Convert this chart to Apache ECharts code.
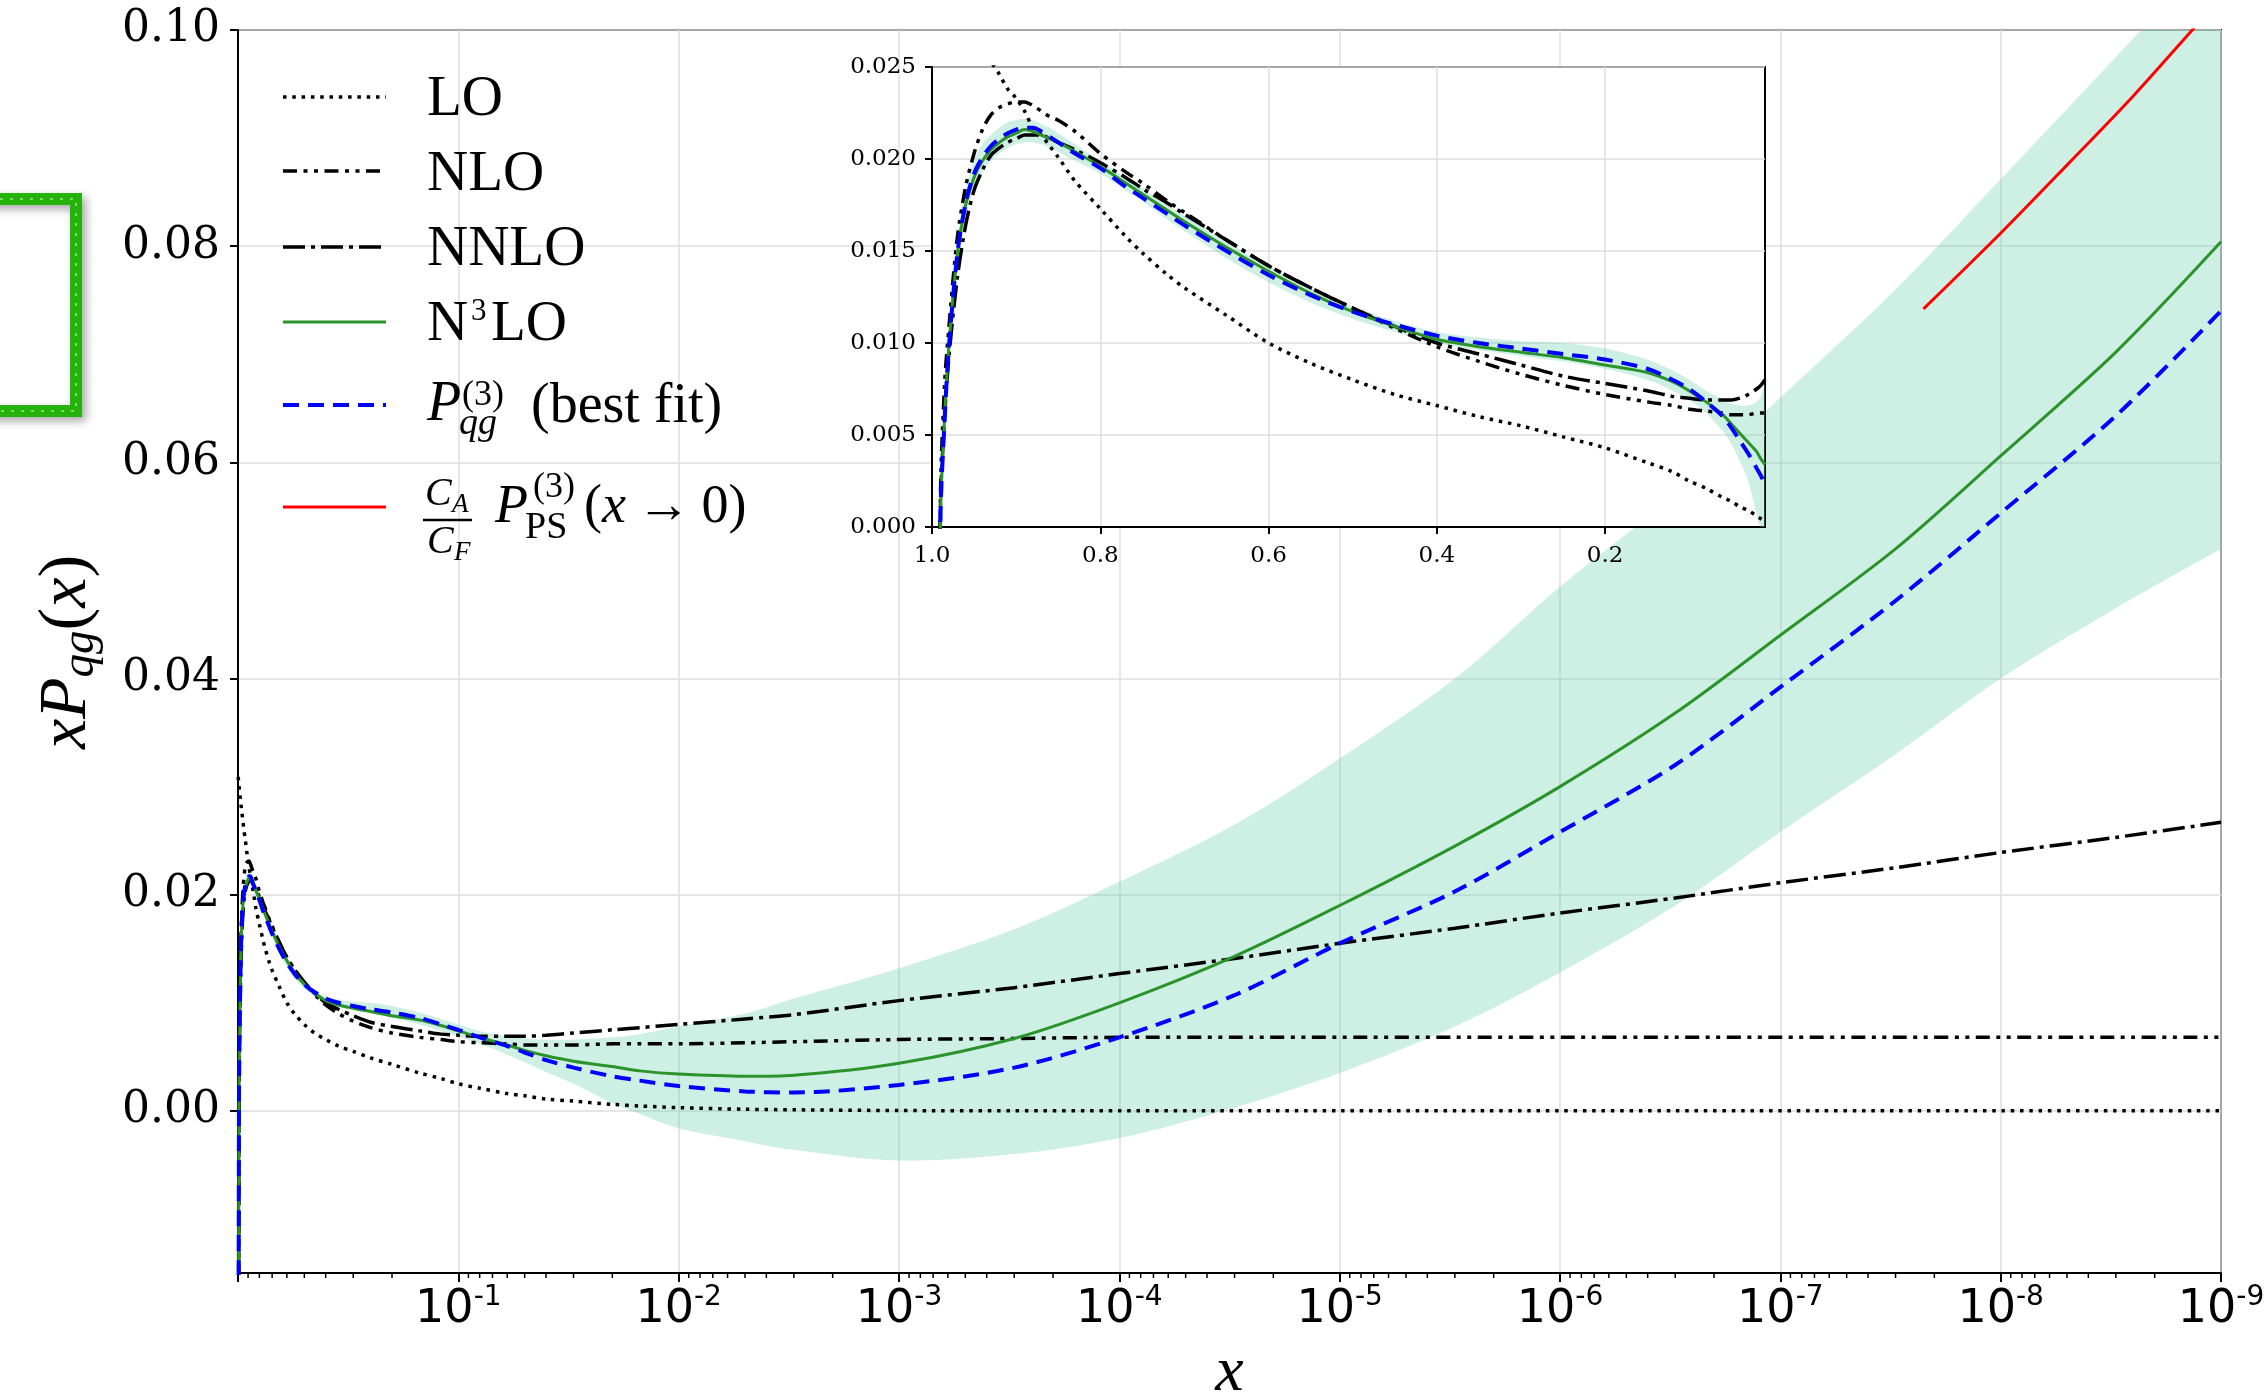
<!DOCTYPE html>
<html>
<head>
<meta charset="utf-8">
<script src="https://cdn.jsdelivr.net/npm/echarts@6/dist/echarts.min.js"></script>
<style>html,body{margin:0;padding:0;background:#fff}#c{width:2265px;height:1395px}</style>
</head>
<body>
<div id="c"></div>
<script>
// ---------------- data ----------------
const xs = [0.998, 0.99, 0.985, 0.98, 0.97, 0.96, 0.95, 0.94, 0.93, 0.92,
  0.91, 0.90, 0.89, 0.88, 0.87, 0.86, 0.85, 0.83, 0.80, 0.77,
  0.75, 0.72, 0.70, 0.65, 0.60, 0.55, 0.50, 0.45, 0.40, 0.35,
  0.30, 0.25, 0.20, 0.15, 0.12, 0.10, 0.08, 0.06, 0.05, 0.04,
  0.03, 0.02, 0.015, 0.01, 5e-3, 3e-3, 1e-3, 3e-4, 1e-4, 3e-5,
  1e-5, 3e-6, 1e-6, 3e-7, 1e-7, 3e-8, 1e-8, 3e-9, 1e-9];

const LO = [0.0309, 0.0301, 0.0297, 0.0292, 0.0284, 0.0276, 0.0268, 0.0260, 0.0253, 0.0246,
  0.0238, 0.0233, 0.0226, 0.0217, 0.0213, 0.0207, 0.0201, 0.0188, 0.0173, 0.0158,
  0.0149, 0.0137, 0.0130, 0.0115, 0.0100, 0.0089, 0.0080, 0.0072, 0.0066, 0.0060,
  0.0055, 0.0049, 0.0043, 0.0035, 0.0030, 0.0025, 0.0021, 0.0016, 0.0014, 0.0011,
  0.0009, 0.0006, 0.00045, 0.0003, 0.00015, 0.0001, 0.00003, 0.00001, 0, 0,
  0, 0, 0, 0, 0, 0, 0, 0, 0];

const NLO = [-0.05, 0.0015, 0.0078, 0.0108, 0.0157, 0.0185, 0.0203, 0.0216, 0.0224, 0.0228,
  0.0230, 0.0231, 0.0231, 0.0229, 0.0226, 0.0223, 0.0221, 0.0215, 0.0203, 0.0193,
  0.0187, 0.0177, 0.0171, 0.0156, 0.0142, 0.0130, 0.0119, 0.0108, 0.0098, 0.0090,
  0.0083, 0.0077, 0.0072, 0.0068, 0.0066, 0.0064, 0.0063, 0.0062, 0.0061, 0.0061,
  0.0061, 0.0062, 0.0062, 0.0062, 0.0063, 0.0064, 0.0066, 0.0067, 0.0068, 0.0068,
  0.0068, 0.0068, 0.0068, 0.0068, 0.0068, 0.0068, 0.0068, 0.0068, 0.0068];

const NNLO = [-0.05, 0.0010, 0.0060, 0.0092, 0.0135, 0.0164, 0.0183, 0.0194, 0.0202, 0.0206,
  0.0209, 0.0211, 0.0213, 0.0213, 0.0213, 0.0211, 0.0209, 0.0205, 0.0198, 0.0190,
  0.0184, 0.0176, 0.0170, 0.0156, 0.0142, 0.0130, 0.0119, 0.0109, 0.0100, 0.0094,
  0.0088, 0.0082, 0.0078, 0.0074, 0.0071, 0.0070, 0.0069, 0.0069, 0.0069, 0.0070,
  0.0072, 0.0075, 0.0077, 0.0080, 0.0085, 0.0089, 0.0102, 0.0114, 0.0127, 0.0141,
  0.0155, 0.0169, 0.0183, 0.0197, 0.0211, 0.0225, 0.0239, 0.0253, 0.0267];

const N3LO = [-0.05, 0.0005, 0.0060, 0.0098, 0.0148, 0.0175, 0.0190, 0.0199, 0.0205, 0.0209,
  0.0212, 0.0214, 0.0216, 0.0215, 0.0213, 0.0211, 0.0209, 0.0204, 0.0196, 0.0187,
  0.0181, 0.0172, 0.0166, 0.0152, 0.0139, 0.0127, 0.0117, 0.0109, 0.0102, 0.0098,
  0.0095, 0.0092, 0.0088, 0.0084, 0.0079, 0.0074, 0.0068, 0.0061, 0.0056, 0.0051,
  0.0046, 0.0041, 0.0037, 0.0034, 0.0032, 0.0033, 0.0044, 0.0067, 0.0100, 0.0143,
  0.0190, 0.0245, 0.0300, 0.0368, 0.0440, 0.0520, 0.0606, 0.0702, 0.0804];

const bestFit = [-0.05, 0.0003, 0.0058, 0.0097, 0.0148, 0.0176, 0.0192, 0.0201, 0.0207, 0.0211,
  0.0214, 0.0216, 0.0217, 0.0217, 0.0215, 0.0212, 0.0209, 0.0203, 0.0195, 0.0185,
  0.0179, 0.0170, 0.0164, 0.0150, 0.0137, 0.0126, 0.0117, 0.0110, 0.0104, 0.0100,
  0.0097, 0.0094, 0.0091, 0.0086, 0.0080, 0.0075, 0.0068, 0.0060, 0.0054, 0.0047,
  0.0040, 0.0032, 0.0028, 0.0023, 0.0018, 0.0017, 0.0024, 0.0040, 0.0068, 0.0107,
  0.0155, 0.0203, 0.0258, 0.0320, 0.0392, 0.0472, 0.0553, 0.0643, 0.0740];

const bandLow = [-0.06, -0.0002, 0.0052, 0.0090, 0.0141, 0.0168, 0.0184, 0.0193, 0.0199, 0.0203,
  0.0206, 0.0208, 0.0209, 0.0209, 0.0208, 0.0206, 0.0204, 0.0199, 0.0192, 0.0183,
  0.0177, 0.0167, 0.0161, 0.0146, 0.0133, 0.0122, 0.0113, 0.0106, 0.0100, 0.0096,
  0.0093, 0.0090, 0.0086, 0.0080, 0.0074, 0.0069, 0.0062, 0.0052, 0.0045, 0.0036,
  0.0025, 0.0007, -0.0003, -0.0016, -0.0028, -0.0036, -0.0046, -0.0040, -0.0025, 0.0003,
  0.0035, 0.0078, 0.0128, 0.0190, 0.0258, 0.0330, 0.0400, 0.0465, 0.0520];

const bandHigh = [-0.04, 0.0010, 0.0066, 0.0104, 0.0155, 0.0183, 0.0199, 0.0208, 0.0213, 0.0217,
  0.0220, 0.0221, 0.0222, 0.0221, 0.0219, 0.0217, 0.0214, 0.0208, 0.0199, 0.0190,
  0.0184, 0.0175, 0.0169, 0.0155, 0.0142, 0.0130, 0.0120, 0.0112, 0.0106, 0.0103,
  0.0101, 0.0100, 0.0097, 0.0091, 0.0085, 0.0080, 0.0074, 0.0069, 0.0067, 0.0066,
  0.0066, 0.0068, 0.0071, 0.0078, 0.0090, 0.0104, 0.0132, 0.0168, 0.0212, 0.0265,
  0.0326, 0.0400, 0.0485, 0.0570, 0.0660, 0.0760, 0.0862, 0.0975, 0.1080];

const redX = [2.24e-8, 1e-8, 5e-9, 2.5e-9, 1.35e-9, 1e-9];
const redY = [0.0742, 0.0812, 0.0875, 0.0939, 0.1000, 0.1030];

const yTickValues = [0, 0.02, 0.04, 0.06, 0.08, 0.10];
const insetXTicks = [0.2, 0.4, 0.6, 0.8, 1.0];
const insetYTicks = [0, 0.005, 0.010, 0.015, 0.020, 0.025];

// ---------------- helpers ----------------
const allIdx = xs.map((x, i) => i);
const insetIdx = allIdx.filter(i => xs[i] >= 0.0099);
const pairs = (arr, idx) => idx.map(i => [xs[i], arr[i]]);
const minorTicks = [];
for (let e = -9; e <= -1; e++) for (let m = 2; m <= 9; m++) minorTicks.push(m * Math.pow(10, e));

const Y_MIN = -0.015;
const GRIDC = '#dedede';
const SERIF = '"Liberation Serif", "DejaVu Serif", serif';
const BAND = 'rgba(102,205,170,0.32)';
const GREEN = '#2a932a';
const SMOOTH = 0.3;

const styles = {
  LO:   { color: '#000', width: 3.5, type: [3.5, 5.8] },
  NLO:  { color: '#000', width: 3.5, type: [14, 6.5, 4, 6.5, 4, 6.5] },
  NNLO: { color: '#000', width: 3.5, type: [22, 6, 4, 6] },
  N3LO: { color: GREEN, width: 3, type: 'solid' },
  best: { color: '#0000ff', width: 4, type: [16, 9] },
  red:  { color: '#ff0000', width: 3, type: 'solid' }
};

function lineSeries(name, data, st, xi, z) {
  return {
    type: 'line', name, data, xAxisIndex: xi, yAxisIndex: xi,
    showSymbol: false, symbol: 'none', smooth: SMOOTH, clip: true, z,
    lineStyle: { color: st.color, width: st.width, type: st.type, cap: 'butt' },
    emphasis: { disabled: true }, silent: true
  };
}

// smooth curve (Catmull-Rom -> cubic Bezier) through pixel points
function curveThrough(p) {
  let s = '';
  for (let i = 0; i < p.length - 1; i++) {
    const p0 = p[Math.max(i - 1, 0)], p1 = p[i], p2 = p[i + 1], p3 = p[Math.min(i + 2, p.length - 1)];
    const c1x = p1[0] + (p2[0] - p0[0]) / 6, c1y = p1[1] + (p2[1] - p0[1]) / 6;
    const c2x = p2[0] - (p3[0] - p1[0]) / 6, c2y = p2[1] - (p3[1] - p1[1]) / 6;
    s += ' C' + c1x + ' ' + c1y + ' ' + c2x + ' ' + c2y + ' ' + p2[0] + ' ' + p2[1];
  }
  return s;
}

// uncertainty band: filled region between bandLow and bandHigh
function bandSeries(idx, xi, z) {
  return {
    type: 'custom', xAxisIndex: xi, yAxisIndex: xi, clip: true, z, silent: true,
    data: idx.map(i => [xs[i], bandLow[i], bandHigh[i]]),
    renderItem: function (params, api) {
      if (params.dataIndex !== 0) return null;
      const up = idx.map(i => api.coord([xs[i], bandHigh[i]]));
      const lo = idx.map(i => api.coord([xs[i], bandLow[i]])).reverse();
      const d = 'M' + up[0][0] + ' ' + up[0][1] + curveThrough(up) +
        ' L' + lo[0][0] + ' ' + lo[0][1] + curveThrough(lo) + ' Z';
      return { type: 'path', shape: { pathData: d }, style: { fill: BAND, stroke: null } };
    }
  };
}

const chart = echarts.init(document.getElementById('c'), null, { width: 2265, height: 1395 });

const option = {
  animation: false,
  backgroundColor: '#fff',
  grid: [
    { left: 238, top: 30, width: 1983, height: 1243, show: true, backgroundColor: 'transparent',
      borderColor: '#000', borderWidth: 2, containLabel: false, outerBoundsMode: 'none' },
    { left: 932, top: 67, width: 833, height: 460, show: true, backgroundColor: '#fff',
      borderColor: '#000', borderWidth: 2, z: 10, containLabel: false, outerBoundsMode: 'none' }
  ],
  xAxis: [
    { type: 'log', logBase: 10, gridIndex: 0, min: 1e-9, max: 1, inverse: true, splitNumber: 9,
      axisLine: { show: true, onZero: false, lineStyle: { color: '#000', width: 2 } },
      axisTick: { show: true, length: 9, lineStyle: { color: '#000', width: 2 } },
      axisLabel: {
        margin: 12,
        formatter: function (v) {
          const e = Math.round(Math.log10(v));
          if (e === 0) return '';
          return '{b|10}{s|' + e + '}';
        },
        rich: {
          b: { fontFamily: 'DejaVu Sans', fontSize: 46, lineHeight: 50, color: '#000' },
          s: { fontFamily: 'DejaVu Sans', fontSize: 28, lineHeight: 30, padding: [0, 0, 24, 0], color: '#000' }
        }
      },
      splitLine: { show: true, lineStyle: { color: GRIDC, width: 1.5 } },
      name: 'x', nameLocation: 'middle', nameGap: 66,
      nameTextStyle: { fontFamily: SERIF, fontStyle: 'italic', fontSize: 64, color: '#000' }
    },
    { type: 'value', gridIndex: 1, min: 0.01, max: 1, inverse: true, z: 11,
      axisLine: { show: true, onZero: false, lineStyle: { color: '#000', width: 2 } },
      axisTick: { show: true, length: 7, customValues: insetXTicks, lineStyle: { color: '#000', width: 2 } },
      axisLabel: { customValues: insetXTicks, margin: 18, fontFamily: 'DejaVu Serif', fontSize: 23, color: '#000',
        formatter: v => (v < 0.1 ? '' : v.toFixed(1)) },
      splitLine: { show: true, lineStyle: { color: GRIDC, width: 1.5 } }
    }
  ],
  yAxis: [
    { type: 'value', gridIndex: 0, min: Y_MIN, max: 0.10,
      axisLine: { show: true, onZero: false, lineStyle: { color: '#000', width: 2 } },
      axisTick: { show: true, length: 8, customValues: yTickValues, lineStyle: { color: '#000', width: 2 } },
      axisLabel: { customValues: yTickValues, margin: 18, fontFamily: 'DejaVu Serif', fontSize: 44, color: '#000',
        formatter: v => (v < -1e-4 ? '' : v.toFixed(2)) },
      splitLine: { show: true, lineStyle: { color: GRIDC, width: 1.5 } }
    },
    { type: 'value', gridIndex: 1, min: 0, max: 0.025, interval: 0.005, z: 11,
      axisLine: { show: true, onZero: false, lineStyle: { color: '#000', width: 2 } },
      axisTick: { show: true, length: 7, lineStyle: { color: '#000', width: 2 } },
      axisLabel: { margin: 16, fontFamily: 'DejaVu Serif', fontSize: 23, color: '#000',
        formatter: v => v.toFixed(3) },
      splitLine: { show: true, lineStyle: { color: GRIDC, width: 1.5 } }
    }
  ],
  series: [
    bandSeries(allIdx, 0, 1),
    lineSeries('LO', pairs(LO, allIdx), styles.LO, 0, 2),
    lineSeries('NLO', pairs(NLO, allIdx), styles.NLO, 0, 2),
    lineSeries('NNLO', pairs(NNLO, allIdx), styles.NNLO, 0, 2),
    lineSeries('N3LO', pairs(N3LO, allIdx), styles.N3LO, 0, 3),
    lineSeries('best fit', pairs(bestFit, allIdx), styles.best, 0, 4),
    lineSeries('CA/CF PPS', redX.map((x, i) => [x, redY[i]]), styles.red, 0, 4),
    { type: 'custom', xAxisIndex: 0, yAxisIndex: 0, clip: false, silent: true, z: 5,
      data: minorTicks.map(v => [v, Y_MIN]),
      renderItem: function (params, api) {
        const p = api.coord([api.value(0), Y_MIN]);
        return { type: 'line', shape: { x1: p[0], y1: p[1], x2: p[0], y2: p[1] + 5 },
          style: { stroke: '#000', lineWidth: 1.5 } };
      }
    },
    bandSeries(insetIdx, 1, 12),
    lineSeries('LO inset', pairs(LO, insetIdx), styles.LO, 1, 13),
    lineSeries('NLO inset', pairs(NLO, insetIdx), styles.NLO, 1, 13),
    lineSeries('NNLO inset', pairs(NNLO, insetIdx), styles.NNLO, 1, 13),
    lineSeries('N3LO inset', pairs(N3LO, insetIdx), styles.N3LO, 1, 14),
    lineSeries('best fit inset', pairs(bestFit, insetIdx), styles.best, 1, 15)
  ],
  graphic: []
};

// ---------------- legend & titles (graphic) ----------------
const G = [];
function legLine(y, st) {
  G.push({ type: 'line', z: 100, silent: true,
    shape: { x1: 283, y1: y, x2: 386, y2: y },
    style: { stroke: st.color, lineWidth: st.width, lineDash: Array.isArray(st.type) ? st.type : null, lineCap: 'butt' } });
}
function txt(x, y, text, size, italic, family) {
  G.push({ type: 'text', z: 100, silent: true, x, y,
    style: { text, fontSize: size, fontFamily: family || SERIF, fontStyle: italic ? 'italic' : 'normal',
      fill: '#000', align: 'left', verticalAlign: 'middle' } });
}
legLine(97, styles.LO);
legLine(171, styles.NLO);
legLine(247, styles.NNLO);
legLine(322, styles.N3LO);
legLine(405, styles.best);
legLine(507, styles.red);

const D = 5;
txt(427, 95 + D, 'LO', 57);
txt(427, 170 + D, 'NLO', 57);
txt(427, 245 + D, 'NNLO', 57);
txt(427, 320 + D, 'N', 57);
txt(471, 307 + D, '3', 31);
txt(491, 320 + D, 'LO', 57);

txt(427, 400 + D, 'P', 56, true);
txt(462, 391 + D, '(3)', 36);
txt(459, 419 + D, 'qg', 38, true);
txt(531, 402 + D, '(best fit)', 56);

txt(425, 489 + D, 'C', 40, true);
txt(452, 500 + D, 'A', 27, true);
G.push({ type: 'line', z: 100, silent: true, shape: { x1: 423, y1: 515 + D, x2: 472, y2: 515 + D },
  style: { stroke: '#000', lineWidth: 2.5 } });
txt(427, 537 + D, 'C', 40, true);
txt(454, 548 + D, 'F', 27, true);
txt(495, 503 + D, 'P', 54, true);
txt(533, 483 + D, '(3)', 36);
txt(525, 523 + D, 'PS', 38);
G.push({ type: 'text', z: 100, silent: true, x: 584, y: 503 + D,
  style: { text: '{r|(}{i|x}{r|\u2009\u2192\u20090)}', align: 'left', verticalAlign: 'middle',
    rich: { r: { fontFamily: SERIF, fontSize: 54, fill: '#000' },
            i: { fontFamily: SERIF, fontSize: 54, fontStyle: 'italic', fill: '#000' } } } });

// y-axis title  x P_qg (x)
G.push({ type: 'text', z: 100, silent: true, x: 67, y: 652, rotation: Math.PI / 2,
  style: { text: '{i|xP}{s|qg}{r|(}{i|x}{r|)}', align: 'center', verticalAlign: 'middle',
    rich: { i: { fontFamily: SERIF, fontSize: 68, fontStyle: 'italic', fill: '#000' },
            r: { fontFamily: SERIF, fontSize: 68, fill: '#000' },
            s: { fontFamily: SERIF, fontSize: 47, fontStyle: 'italic', fill: '#000', padding: [28, 0, 0, 0] } } } });

// green hand-drawn frame at the left edge
G.push({ type: 'rect', z: 100, silent: true, shape: { x: -60, y: 199, width: 136, height: 212 },
  style: { fill: 'none', stroke: '#25b30b', lineWidth: 12, shadowBlur: 10, shadowColor: 'rgba(0,0,0,0.35)',
    shadowOffsetX: 4, shadowOffsetY: 4 } });
G.push({ type: 'rect', z: 101, silent: true, shape: { x: -60, y: 199, width: 136, height: 212 },
  style: { fill: 'none', stroke: '#7fd86a', lineWidth: 2, lineDash: [3, 7] } });

option.graphic = G;
chart.setOption(option);
</script>
</body>
</html>
